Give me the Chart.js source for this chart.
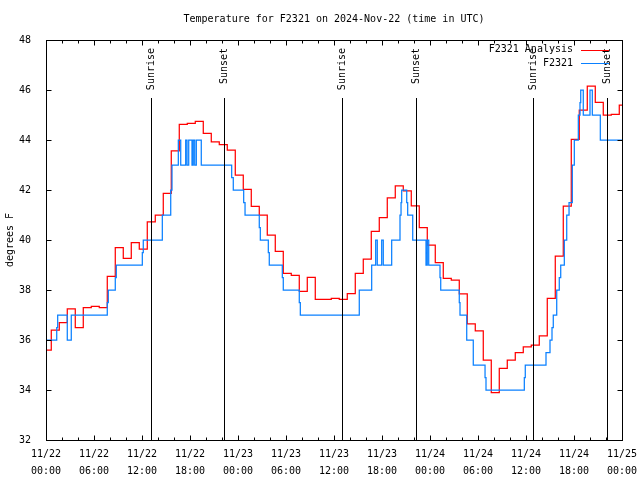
<!DOCTYPE html>
<html lang="en">
<head>
<meta charset="UTF-8">
<title>Temperature for F2321</title>
<script src="https://cdn.jsdelivr.net/npm/chart.js"></script>
<style>
  body { margin: 0; background: #fff; }
  #chart { display: block; }
</style>
</head>
<body>
<canvas id="chart" width="640" height="480"></canvas>
<script>
// x values are hours since 2024-11-22 00:00 UTC
const xTickDates = ['11/22', '11/22', '11/22', '11/22', '11/23', '11/23', '11/23', '11/23', '11/24', '11/24', '11/24', '11/24', '11/25'];
const xTickTimes = ['00:00', '06:00', '12:00', '18:00', '00:00', '06:00', '12:00', '18:00', '00:00', '06:00', '12:00', '18:00', '00:00'];

// hourly analysis, each value starts at analysisStart + i hours
const analysisStart = -0.34;
const analysisTemps = [
  35.6, 36.4, 36.7, 37.25, 36.5, 37.3, 37.35, 37.3, 38.55, 39.7,
  39.27, 39.9, 39.64, 40.73, 41.0, 41.87, 43.57, 44.63, 44.67, 44.75,
  44.27, 43.93, 43.82, 43.6, 42.6, 42.03, 41.35, 41.0, 40.2, 39.55,
  38.67, 38.59, 37.95, 38.51, 37.63, 37.63, 37.67, 37.63, 37.86, 38.67,
  39.24, 40.35, 40.9, 41.69, 42.17, 41.97, 41.37, 40.5, 39.8, 39.1,
  38.47, 38.4, 37.85, 36.65, 36.37, 35.2, 33.9, 34.87, 35.2, 35.5,
  35.73, 35.8, 36.17, 37.67, 39.36, 41.36, 44.03, 45.2, 46.16, 45.51,
  45.0, 45.03, 45.4
];

// station observations
const obsHours = [
  0, 1.34, 1.46, 2.66, 3.16, 7.66, 7.79, 8.66, 8.79, 12.04,
  12.16, 14.54, 15.59, 15.75, 16.54, 16.84, 17.46, 17.63, 17.84, 18.25,
  18.41, 18.59, 18.79, 19.41, 23.21, 23.41, 24.71, 24.88, 26.66, 26.79,
  27.79, 27.91, 29.54, 29.66, 31.66, 31.79, 39.16, 40.71, 41.21, 41.41,
  41.96, 42.16, 43.21, 44.25, 44.38, 44.46, 45.09, 45.21, 45.84, 47.5,
  47.66, 47.84, 49.25, 49.34, 51.66, 51.75, 52.59, 53.41, 54.88, 55.0,
  59.79, 59.91, 62.5, 63.0, 63.25, 63.41, 63.84, 64.16, 64.34, 64.79,
  65.09, 65.38, 65.79, 66.04, 66.54, 66.75, 66.84, 67.16, 68.0, 68.29,
  69.29, 72
];
const obsTemps = [
  36.0, 36.5, 37.0, 36.0, 37.0, 37.5, 38.0, 38.5, 39.0, 39.5,
  40.0, 41.0, 42.0, 43.0, 44.0, 43.0, 44.0, 43.0, 44.0, 43.0,
  44.0, 43.0, 44.0, 43.0, 42.5, 42.0, 41.5, 41.0, 40.5, 40.0,
  39.5, 39.0, 38.5, 38.0, 37.5, 37.0, 38.0, 39.0, 40.0, 39.0,
  40.0, 39.0, 40.0, 41.0, 41.5, 42.0, 41.5, 41.0, 40.0, 39.0,
  40.0, 39.0, 38.5, 38.0, 37.5, 37.0, 36.0, 35.0, 34.5, 34.0,
  34.5, 35.0, 35.5, 36.0, 36.5, 37.0, 38.0, 38.5, 39.0, 40.0,
  41.0, 41.5, 43.0, 44.0, 45.0, 45.5, 46.0, 45.0, 46.0, 45.0,
  44.0, 44.0
];

const sunHours = [13.09, 22.29, 37.06, 46.29, 60.91, 70.16];
const sunLabels = ['Sunrise', 'Sunset', 'Sunrise', 'Sunset', 'Sunrise', 'Sunset'];

const FONT = 'DejaVu Sans Mono';

const analysisPoints = analysisTemps.map((t, i) => ({ x: analysisStart + i, y: t }));
analysisPoints.push({ x: 72, y: analysisTemps[analysisTemps.length - 1] });
const obsPoints = obsHours.map((h, i) => ({ x: h, y: obsTemps[i] }));

const gnuplotLook = {
  id: 'gnuplotLook',
  afterDatasetsDraw(chart) {
    const ctx = chart.ctx;
    const xs = chart.scales.x;
    const area = chart.chartArea;
    ctx.save();
    ctx.strokeStyle = '#000';
    ctx.lineWidth = 1;
    ctx.fillStyle = '#000';
    ctx.font = '10px "' + FONT + '"';
    sunHours.forEach((h, i) => {
      const x = Math.round(xs.getPixelForValue(h)) + 0.5;
      ctx.beginPath();
      ctx.moveTo(x, 98);
      ctx.lineTo(x, area.bottom);
      ctx.stroke();
      ctx.save();
      ctx.translate(x, 48);
      ctx.rotate(-Math.PI / 2);
      ctx.textAlign = 'right';
      ctx.textBaseline = 'middle';
      ctx.fillText(sunLabels[i], 0, 0);
      ctx.restore();
    });
    ctx.restore();
  },
  afterDraw(chart) {
    const ctx = chart.ctx;
    const xs = chart.scales.x;
    const ys = chart.scales.y;
    const a = chart.chartArea;
    const L = Math.round(a.left) + 0.5, R = Math.round(a.right) + 0.5;
    const T = Math.round(a.top) + 0.5, B = Math.round(a.bottom) + 0.5;
    ctx.save();
    ctx.strokeStyle = '#000';
    ctx.lineWidth = 1;
    ctx.strokeRect(L, T, R - L, B - T);
    ctx.beginPath();
    for (let h = 2; h < 72; h += 2) {
      const x = Math.round(xs.getPixelForValue(h)) + 0.5;
      const len = h % 6 === 0 ? 5 : 3;
      ctx.moveTo(x, B); ctx.lineTo(x, B - len);
      ctx.moveTo(x, T); ctx.lineTo(x, T + len);
    }
    ys.ticks.forEach(t => {
      const y = Math.round(ys.getPixelForValue(t.value)) + 0.5;
      ctx.moveTo(L, y); ctx.lineTo(L + 5, y);
      ctx.moveTo(R, y); ctx.lineTo(R - 5, y);
    });
    ctx.stroke();

    // title
    ctx.fillStyle = '#000';
    ctx.font = '10px "' + FONT + '"';
    ctx.textAlign = 'center';
    ctx.textBaseline = 'middle';
    ctx.fillText('Temperature for F2321 on 2024-Nov-22 (time in UTC)', (a.left + a.right) / 2, 19);

    // key, gnuplot style
    ctx.textAlign = 'right';
    chart.data.datasets.forEach((ds, i) => {
      const y = 49.5 + i * 13.5;
      ctx.fillStyle = '#000';
      ctx.fillText(ds.label, 573, y);
      ctx.strokeStyle = ds.borderColor;
      ctx.beginPath();
      ctx.moveTo(581, Math.round(y) + 0.5);
      ctx.lineTo(609, Math.round(y) + 0.5);
      ctx.stroke();
    });
    ctx.restore();
  }
};

new Chart(document.getElementById('chart'), {
  type: 'line',
  data: {
    datasets: [
      {
        label: 'F2321 Analysis',
        data: analysisPoints,
        borderColor: '#ff0000',
        borderWidth: 1.25,
        stepped: true,
        pointRadius: 0,
        fill: false,
        order: 1
      },
      {
        label: 'F2321',
        data: obsPoints,
        borderColor: 'rgb(10, 128, 255)',
        borderWidth: 1.25,
        stepped: true,
        pointRadius: 0,
        fill: false,
        order: 0
      }
    ]
  },
  options: {
    responsive: false,
    animation: false,
    layout: { padding: { left: 0, right: 18, top: 40, bottom: 0 } },
    plugins: {
      legend: { display: false },
      tooltip: { enabled: false },
      title: { display: false }
    },
    scales: {
      x: {
        type: 'linear',
        min: 0,
        max: 72,
        grid: { display: false },
        border: { display: false },
        ticks: {
          stepSize: 6,
          autoSkip: false,
          maxRotation: 0,
          padding: -2,
          color: '#000',
          font: { family: FONT, size: 10, lineHeight: 1.7 },
          callback: v => [xTickDates[v / 6], xTickTimes[v / 6]]
        },
        afterFit: s => { s.height = 40; s.paddingLeft = 0; s.paddingRight = 0; }
      },
      y: {
        min: 32,
        max: 48,
        grid: { display: false },
        border: { display: false },
        ticks: {
          stepSize: 2,
          padding: 7,
          color: '#000',
          font: { family: FONT, size: 10 }
        },
        title: {
          display: true,
          text: 'degrees F',
          color: '#000',
          font: { family: FONT, size: 10 },
          padding: { top: 4, bottom: 0 }
        },
        afterFit: s => { s.width = 46; s.paddingTop = 0; s.paddingBottom = 0; }
      }
    }
  },
  plugins: [gnuplotLook]
});
</script>
</body>
</html>
